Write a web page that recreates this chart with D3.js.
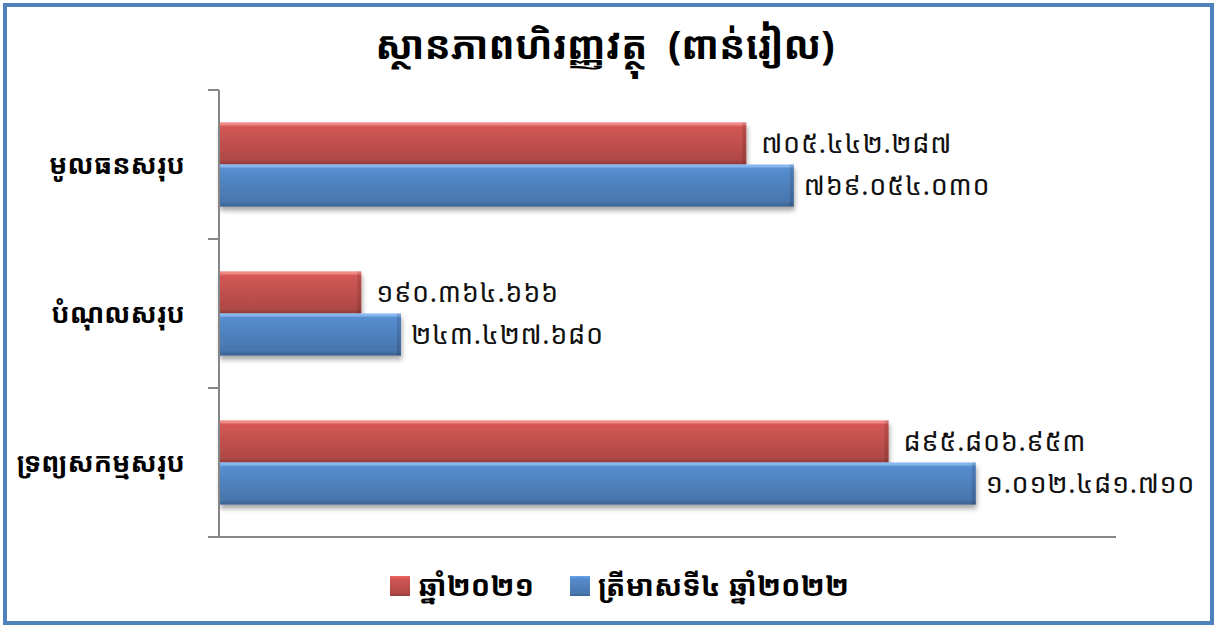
<!DOCTYPE html>
<html><head><meta charset="utf-8">
<script src="https://cdn.jsdelivr.net/npm/d3@7"></script>
<style>html,body{margin:0;padding:0;background:#fff;}svg{display:block;}</style>
</head><body>
<svg id="c" width="1215" height="626"></svg>
<script>
const title = "ស្ថានភាពហិរញ្ញវត្ថុ  (ពាន់រៀល)";
const categories = ["មូលធនសរុប", "បំណុលសរុប", "ទ្រព្យសកម្មសរុប"];
const seriesNames = ["ឆ្នាំ២០២១", "ត្រីមាសទី៤ ឆ្នាំ២០២២"];
const values2021 = [705442287, 190364666, 895806953];
const valuesQ4_2022 = [769054030, 243427680, 1012481710];
const xTicks = [0, 200000000, 400000000, 600000000, 800000000, 1000000000, 1200000000];

const colors = ["#c0504d", "#4f81bd"];
const series = [values2021, valuesQ4_2022];
const font = "'Noto Sans Khmer','Khmer OS','Khmer OS System','Leelawadee UI',sans-serif";

const khDigits = "០១២៣៤៥៦៧៨៩";
const fmt = v => d3.format(",")(v).replace(/,/g, ".").replace(/[0-9]/g, d => khDigits[+d]);

const svg = d3.select("#c");
const defs = svg.append("defs");

// frame
svg.append("rect").attr("x", 5).attr("y", 5).attr("width", 1207).attr("height", 618)
  .attr("fill", "none").attr("stroke", "#4f81bd").attr("stroke-width", 4);

const m = {left: 219, right: 1116, top: 90, bottom: 537};
const x = d3.scaleLinear().domain([0, xTicks[xTicks.length - 1]]).range([m.left, m.right]);
const y = d3.scaleBand().domain(categories).range([m.top, m.bottom]).paddingInner(0.435).paddingOuter(0.2175);
const y1 = d3.scaleBand().domain([0, 1]).range([0, y.bandwidth()]);

// gradients
colors.forEach((c, i) => {
  const base = d3.color(c);
  const g = defs.append("linearGradient").attr("id", "g" + i).attr("x1", 0).attr("y1", 0).attr("x2", 0).attr("y2", 1);
  g.append("stop").attr("offset", "0%").attr("stop-color", base.brighter(0.7));
  g.append("stop").attr("offset", "12%").attr("stop-color", base.brighter(0.25));
  g.append("stop").attr("offset", "50%").attr("stop-color", base);
  g.append("stop").attr("offset", "88%").attr("stop-color", base.darker(0.25));
  g.append("stop").attr("offset", "100%").attr("stop-color", base.darker(0.8));
});
const sh = defs.append("filter").attr("id", "sh").attr("x", "-5%").attr("y", "-20%").attr("width", "110%").attr("height", "160%");
sh.append("feGaussianBlur").attr("in", "SourceAlpha").attr("stdDeviation", 2.5);
sh.append("feOffset").attr("dx", 1).attr("dy", 4).attr("result", "ob");
sh.append("feComponentTransfer").append("feFuncA").attr("type", "linear").attr("slope", 0.35);
const mg = sh.append("feMerge");
mg.append("feMergeNode");
mg.append("feMergeNode").attr("in", "SourceGraphic");

// bars
categories.forEach((cat, ci) => {
  series.forEach((vals, si) => {
    const bx = x(0), by = y(cat) + y1(si), bw = x(vals[ci]) - x(0), bh = y1.bandwidth();
    const g = svg.append("g");
    g.append("rect").attr("x", bx).attr("y", by).attr("width", bw).attr("height", bh)
      .attr("fill", "url(#g" + si + ")").attr("filter", "url(#sh)");
    g.append("rect").attr("x", bx).attr("y", by).attr("width", bw).attr("height", 3)
      .attr("fill", "#fff").attr("opacity", 0.25);
    g.append("rect").attr("x", bx + bw - 4).attr("y", by).attr("width", 4).attr("height", bh)
      .attr("fill", "#000").attr("opacity", 0.12);
    svg.append("text").attr("x", x(vals[ci]) + (si === 0 ? 15 : 10)).attr("y", by + bh / 2)
      .attr("dy", "0.35em").attr("font-family", font).attr("font-size", 27).attr("letter-spacing", 0.7)
      .attr("fill", "#111").text(fmt(vals[ci]));
  });
});

// axes
const axisColor = "#868686";
svg.append("line").attr("x1", m.left).attr("x2", m.left).attr("y1", m.top).attr("y2", m.bottom)
  .attr("stroke", axisColor).attr("stroke-width", 2);
svg.append("line").attr("x1", m.left - 11).attr("x2", m.right).attr("y1", m.bottom).attr("y2", m.bottom)
  .attr("stroke", axisColor).attr("stroke-width", 2);
const tickYs = [m.top].concat(categories.map(c => y(c) + y.bandwidth() + y.step() * y.paddingInner() / 2));
tickYs[tickYs.length - 1] = m.bottom;
tickYs.forEach(t => svg.append("line").attr("x1", m.left - 11).attr("x2", m.left).attr("y1", t).attr("y2", t)
  .attr("stroke", axisColor).attr("stroke-width", 2));

// category labels
categories.forEach(cat => {
  svg.append("text").attr("x", 185).attr("y", y(cat) + y.bandwidth() / 2).attr("dy", "0.35em")
    .attr("text-anchor", "end").attr("font-family", font).attr("font-size", 27).attr("font-weight", "bold")
    .attr("fill", "#000").text(cat);
});

// title
svg.append("text").attr("x", 605).attr("y", 45).attr("dy", "0.35em").attr("text-anchor", "middle")
  .attr("font-family", font).attr("font-size", 39).attr("font-weight", "bold").attr("fill", "#000")
  .attr("xml:space", "preserve").style("white-space", "pre").text(title);

// legend
const leg = [{x: 390, tx: 418}, {x: 570, tx: 598}];
seriesNames.forEach((n, i) => {
  svg.append("rect").attr("x", leg[i].x).attr("y", 576).attr("width", 20).attr("height", 20)
    .attr("fill", "url(#g" + i + ")");
  svg.append("text").attr("x", leg[i].tx).attr("y", 586).attr("dy", "0.35em")
    .attr("font-family", font).attr("font-size", 29).attr("font-weight", "bold").attr("fill", "#000").text(n);
});
</script>
</body></html>
